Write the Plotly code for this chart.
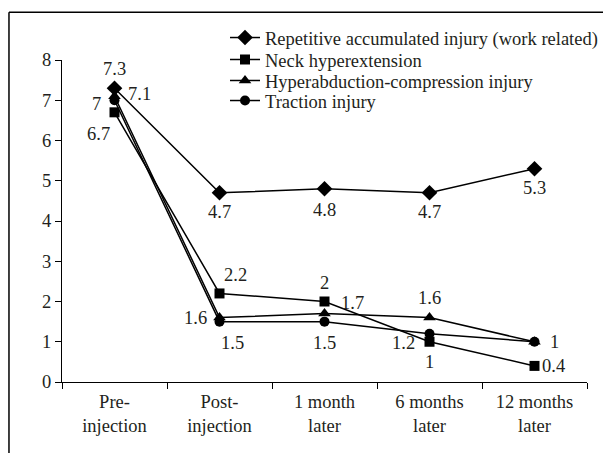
import plotly.graph_objects as go

categories = ["Pre-<br>injection", "Post-<br>injection", "1 month<br>later", "6 months<br>later", "12 months<br>later"]
series_names = [
    "Repetitive accumulated injury (work related)",
    "Neck hyperextension",
    "Hyperabduction-compression injury",
    "Traction injury",
]
repetitive = [7.3, 4.7, 4.8, 4.7, 5.3]
neck = [6.7, 2.2, 2.0, 1.0, 0.4]
hyperabduction = [7.1, 1.6, 1.7, 1.6, 1.0]
traction = [7.0, 1.5, 1.5, 1.2, 1.0]
y_ticks = [0, 1, 2, 3, 4, 5, 6, 7, 8]

all_values = [repetitive, neck, hyperabduction, traction]
symbols = ["diamond", "square", "triangle-up", "circle"]
sizes = [12, 10, 11, 10]
legend_ids = ["legend", "legend2", "legend3", "legend4"]
legend_y = [1.065, 0.997, 0.932, 0.870]

# label offsets in pixels (dx, dy up); None = no label
offsets = [
    [(0, 19), (0, -19), (0, -21), (0, -19), (0, -19)],
    [(-16, -22), (16, 18), (0, 19), (0, -20), (19, 0)],
    [(25, 2), (-24, 0), (28, 11), (0, 20), None],
    [(-18, -4), (13, -21), (0, -21), (-26, -9), (20, 0)],
]

FONT = "Liberation Serif"
TXT = "#231f20"
FS = 18.5
fig = go.Figure()
for name, vals, sym, sz, lg in zip(series_names, all_values, symbols, sizes, legend_ids):
    fig.add_trace(go.Scatter(
        x=categories, y=vals, name=name, mode="lines+markers",
        line=dict(color="black", width=1.5),
        marker=dict(symbol=sym, size=sz, color="black"),
        legend=lg,
    ))

annotations = []
for vals, offs in zip(all_values, offsets):
    for cat, v, off in zip(categories, vals, offs):
        if off is None:
            continue
        annotations.append(dict(
            x=cat, y=v, text=f"{v:g}", showarrow=False,
            xshift=off[0], yshift=off[1],
            xanchor="center", yanchor="middle",
            font=dict(family=FONT, size=FS, color=TXT),
        ))

legend_common = dict(x=0.3105, xanchor="left", yanchor="middle",
                     font=dict(family=FONT, size=FS, color=TXT),
                     bgcolor="rgba(0,0,0,0)", itemwidth=30)
layout_legends = {lg: dict(y=ly, **legend_common) for lg, ly in zip(legend_ids, legend_y)}

fig.update_layout(
    width=611, height=453,
    margin=dict(l=54, r=32, t=51, b=79),
    paper_bgcolor="white", plot_bgcolor="white",
    font=dict(family=FONT, size=FS, color=TXT),
    showlegend=True,
    annotations=annotations,
    shapes=[
        dict(type="line", xref="paper", yref="paper", x0=-0.101, x1=1.2, y0=1.1486, y1=1.1486,
             line=dict(color="black", width=1.5)),
        dict(type="line", xref="paper", yref="paper", x0=-0.101, x1=-0.101, y0=1.1486, y1=-0.4,
             line=dict(color="black", width=1.5)),
    ],
    **layout_legends,
)
fig.update_xaxes(
    type="category", range=[-0.5, 4.5], showline=True, linecolor="black", linewidth=1,
    ticks="outside", tickson="boundaries", ticklen=6, tickcolor="black",
    ticklabelstandoff=3,
    showgrid=False, zeroline=False, tickfont=dict(family=FONT, size=FS, color=TXT),
)
fig.update_yaxes(
    range=[0, 8], tickvals=y_ticks, showline=True, linecolor="black", linewidth=1,
    ticks="outside", ticklen=6, tickcolor="black", showgrid=False, zeroline=False,
    tickfont=dict(family=FONT, size=FS, color=TXT),
)
fig.write_html("out.html")
